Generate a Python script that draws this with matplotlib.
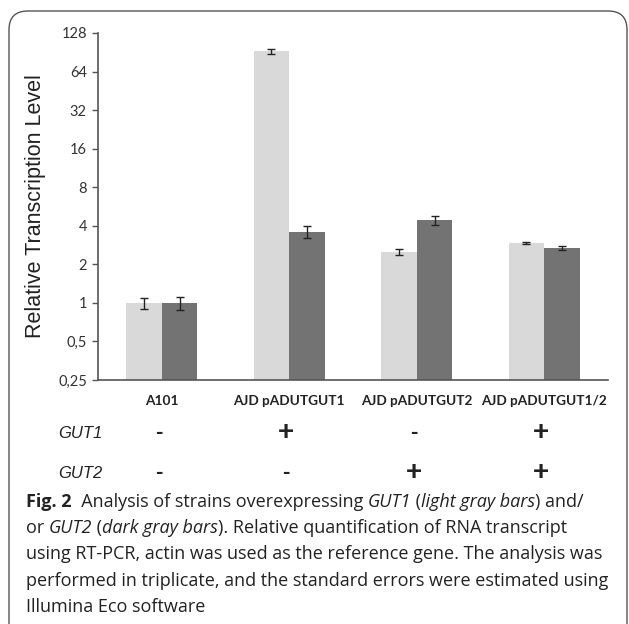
import matplotlib
matplotlib.use("Agg")
import matplotlib.pyplot as plt
import numpy as np
from matplotlib.patches import FancyBboxPatch

# data
strains = ["A101", "AJD pADUTGUT1", "AJD pADUTGUT2", "AJD pADUTGUT1/2"]
gut1_level = [1.0, 92.0, 2.5, 2.95]
gut1_err = [0.10, 4.5, 0.12, 0.06]
gut2_level = [1.0, 3.6, 4.4, 2.7]
gut2_err = [0.12, 0.40, 0.33, 0.09]
gut1_marks = ["-", "+", "-", "+"]
gut2_marks = ["-", "-", "+", "+"]
ytick_vals = [0.25, 0.5, 1, 2, 4, 8, 16, 32, 64, 128]
ytick_text = ["0,25", "0,5", "1", "2", "4", "8", "16", "32", "64", "128"]

W, H = 629, 624
fig = plt.figure(figsize=(W / 100, H / 100), dpi=100)
fig.patch.set_facecolor("white")

# ── rounded frame ───────────────────────────────────────────
fx, fy = 9 / W, 1 - 11 / H
frame = FancyBboxPatch((fx, -0.2), (627 - 9) / W, fy + 0.2,
                       boxstyle="round,pad=0,rounding_size=0.03",
                       transform=fig.transFigure, fill=False,
                       edgecolor="#555555", linewidth=1.0, clip_on=False)
fig.patches.append(frame)

# ── bar chart ───────────────────────────────────────────────
ax = fig.add_axes([98 / W, 1 - 380 / H, 510 / W, 347 / H])
x = np.arange(len(strains))
bw = 0.28
ekw = dict(elinewidth=1, ecolor="#222222", capthick=1)
ax.bar(x - bw / 2, gut1_level, bw, color="#d9d9d9",
       yerr=gut1_err, capsize=3, error_kw=ekw)
ax.bar(x + bw / 2, gut2_level, bw, color="#737373",
       yerr=gut2_err, capsize=3, error_kw=ekw)

ax.set_yscale("log", base=2)
ax.set_ylim(0.25, 128)
ax.set_xlim(-0.5, len(strains) - 0.5)
ax.set_yticks(ytick_vals)
ax.set_yticklabels(ytick_text)
ax.minorticks_off()
ax.set_xticks(x)
ax.set_xticklabels(strains)
ax.tick_params(axis="x", length=0, pad=11, labelsize=9.8, labelcolor="#222222")
ax.tick_params(axis="y", length=4, width=1, color="#555555", pad=4,
               labelsize=10.5, labelcolor="#333333")
for lab in ax.get_xticklabels() + ax.get_yticklabels():
    lab.set_family("Lato")
for lab in ax.get_xticklabels():
    lab.set_fontweight("bold")
for s in ["top", "right"]:
    ax.spines[s].set_visible(False)
for s in ["left", "bottom"]:
    ax.spines[s].set_color("#555555")
    ax.spines[s].set_linewidth(1.2)
ax.set_ylabel("Relative Transcription Level", fontsize=15.5,
              family="Liberation Sans", color="#222222", labelpad=9)

# ── GUT1 / GUT2 rows under the axis ─────────────────────────
rows = [(gut1_marks, 433, "GUT1"), (gut2_marks, 473, "GUT2")]
for marks, ypix, name in rows:
    yf = 1 - ypix / H
    fig.text(102 / W, yf, name, ha="right", va="center", fontsize=12,
             style="italic", family="Liberation Sans", color="#222222")
    for xi, m in zip(x, marks):
        xd = ax.transData.transform((xi, 1))[0]
        xf = fig.transFigure.inverted().transform((xd, 0))[0]
        fig.text(xf - 3 / W, yf, m, ha="center", va="center",
                 fontsize=20 if m == "+" else 16, fontweight="bold",
                 family="Liberation Sans", color="#222222")

# ── caption with mixed styles ───────────────────────────────
caption = [
    [("Fig. 2", "bold"), ("  Analysis of strains overexpressing ", "normal"),
     ("GUT1", "italic"), (" (", "normal"), ("light gray bars", "italic"), (") and/", "normal")],
    [("or ", "normal"), ("GUT2", "italic"), (" (", "normal"), ("dark gray bars", "italic"),
     ("). Relative quantification of RNA transcript", "normal")],
    [("using RT-PCR, actin was used as the reference gene. The analysis was", "normal")],
    [("performed in triplicate, and the standard errors were estimated using", "normal")],
    [("Illumina Eco software", "normal")],
]
renderer = fig.canvas.get_renderer()
y0 = 502
for i, line in enumerate(caption):
    xcur = 26 / W
    yf = 1 - (y0 + i * 26.2) / H
    for txt, st in line:
        kw = dict(fontsize=12.95, family="Open Sans", color="#222222", va="center", ha="left")
        if st == "bold":
            kw["fontweight"] = "bold"
        elif st == "italic":
            kw["style"] = "italic"
        t = fig.text(xcur, yf, txt, **kw)
        bb = t.get_window_extent(renderer=renderer)
        xcur += bb.width / W

fig.savefig("out.png", dpi=100, facecolor="white")
